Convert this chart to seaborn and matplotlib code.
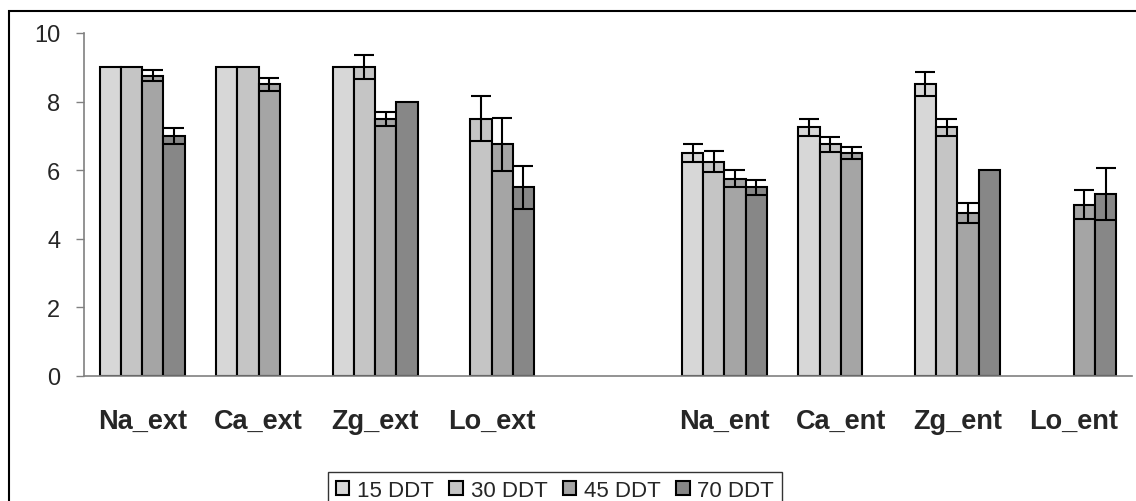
import numpy as np
import pandas as pd
import matplotlib
matplotlib.use("Agg")
import matplotlib.pyplot as plt
from matplotlib.patches import Rectangle
import seaborn as sns

# data
sites = ['Na_ext', 'Ca_ext', 'Zg_ext', 'Lo_ext', ' ', 'Na_ent', 'Ca_ent', 'Zg_ent', 'Lo_ent']
stages = ['15 DDT', '30 DDT', '45 DDT', '70 DDT']
nan = np.nan
d15 = [9.0, 9.0, 9.0, nan, nan, 6.5, 7.25, 8.5, nan]
d30 = [9.0, 9.0, 9.0, 7.5, nan, 6.25, 6.75, 7.25, nan]
d45 = [8.75, 8.5, 7.5, 6.75, nan, 5.75, 6.5, 4.75, 5.0]
d70 = [7.0, nan, 8.0, 5.5, nan, 5.5, nan, 6.0, 5.3]
e15 = [0, 0, 0, nan, nan, 0.27, 0.25, 0.35, nan]
e30 = [0, 0, 0.35, 0.65, nan, 0.3, 0.22, 0.24, nan]
e45 = [0.16, 0.18, 0.2, 0.78, nan, 0.25, 0.18, 0.28, 0.42]
e70 = [0.23, nan, 0, 0.62, nan, 0.22, nan, 0, 0.76]

values = [d15, d30, d45, d70]
errors = [e15, e30, e45, e70]
colors = ['#d7d7d7', '#c5c5c5', '#a5a5a5', '#878787']

rows = []
for st, vals in zip(stages, values):
    for s, v in zip(sites, vals):
        if not np.isnan(v):
            rows.append({'site': s, 'stage': st, 'value': v})
df = pd.DataFrame(rows)

sns.set_style('white')
plt.rcParams['font.family'] = ['Liberation Sans', 'DejaVu Sans']

fig = plt.figure(figsize=(11.36, 5.02), dpi=100)
ax = fig.add_axes([84 / 1136, 1 - 377 / 502, (1132 - 84) / 1136, (377 - 34) / 502])

sns.barplot(data=df, x='site', y='value', hue='stage', order=sites, hue_order=stages,
            palette=colors, width=0.73, edgecolor='black', linewidth=1.5,
            errorbar=None, saturation=1, ax=ax)

# error bars: match each bar to its stage by colour and to its site by position
for bar in list(ax.patches):
    if bar is None or not np.isfinite(bar.get_height()) or bar.get_height() == 0:
        continue
    fc = matplotlib.colors.to_hex(bar.get_facecolor())
    if fc not in colors:
        continue
    i = colors.index(fc)
    xc = bar.get_x() + bar.get_width() / 2
    k = int(round(xc))
    err = errors[i][k]
    if np.isnan(err) or err == 0:
        continue
    ax.errorbar(xc, bar.get_height(), yerr=err, color='black', lw=1.5,
                capsize=7, capthick=1.5, fmt='none', zorder=5)

ax.set_ylim(0, 10)
ax.set_xlim(-0.5, len(sites) - 0.5)
ax.set_yticks([0, 2, 4, 6, 8, 10])
ax.set_xlabel('')
ax.set_ylabel('')

ax.set_xticks(range(len(sites)))
ax.set_xticklabels(sites, fontweight='bold', fontsize=19.5)
ax.set_xticks(np.arange(-0.5, len(sites)), minor=True)
ax.tick_params(axis='x', which='major', length=0, pad=23)
ax.tick_params(axis='x', which='minor', length=6, color='#808080', width=1, direction='out')
ax.tick_params(axis='y', length=6, color='#808080', width=1, pad=11, labelsize=17, left=True)

for side in ['top', 'right']:
    ax.spines[side].set_visible(False)
for side in ['left', 'bottom']:
    ax.spines[side].set_color('#808080')
    ax.spines[side].set_linewidth(1.2)

handles, labels = ax.get_legend_handles_labels()
ax.get_legend().remove()
leg = fig.legend(handles, labels, loc='upper center', bbox_to_anchor=(555 / 1136, 1 - 462 / 502),
                 ncol=4, fontsize=16, frameon=True, fancybox=False, handlelength=0.6,
                 handleheight=0.6, handletextpad=0.35, columnspacing=0.7, borderpad=0.35)
leg.get_frame().set_edgecolor('black')
leg.get_frame().set_linewidth(1.0)

# outer chart border
fig.add_artist(Rectangle((9 / 1136, -0.2), 1.2, 1.2 - 12 / 502, transform=fig.transFigure,
                         fill=False, edgecolor='black', lw=1.5, clip_on=False))

fig.savefig('out.png', dpi=100)
